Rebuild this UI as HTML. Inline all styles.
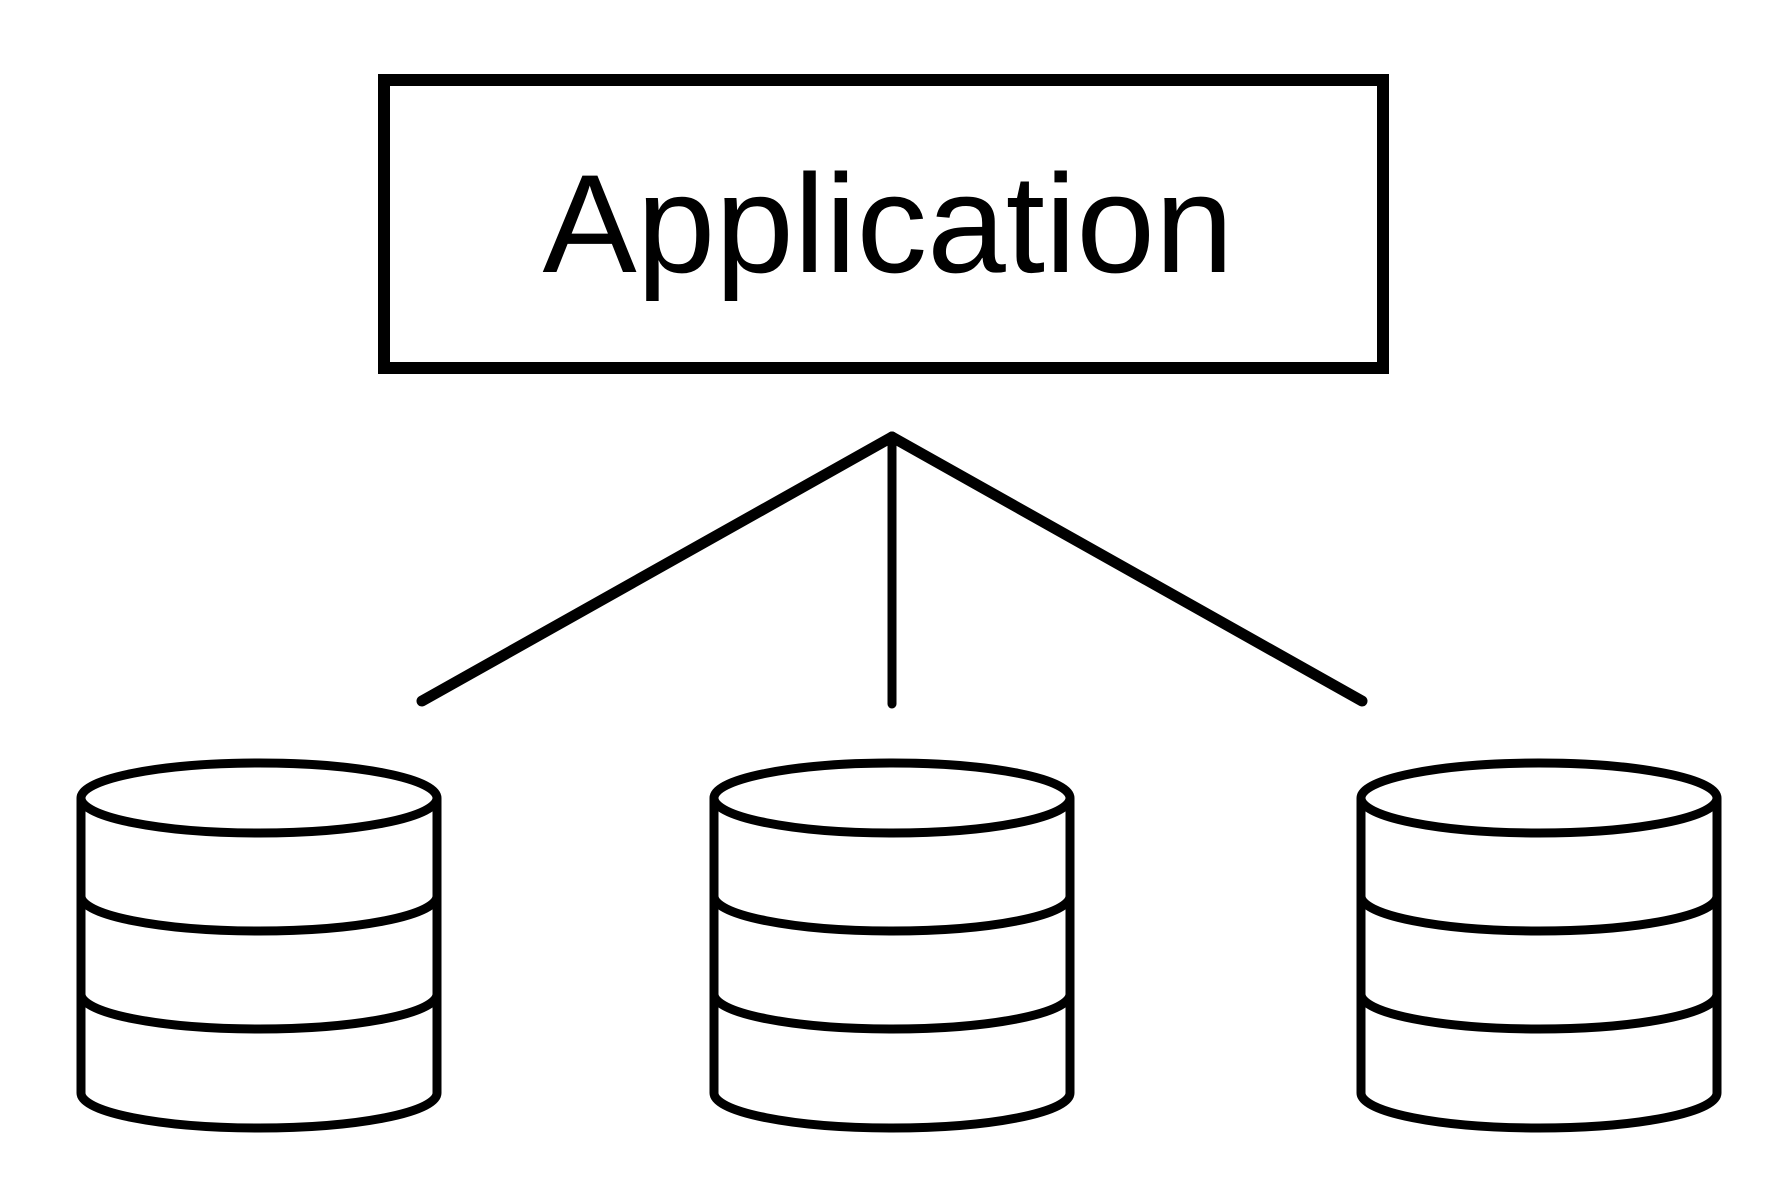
<!DOCTYPE html>
<html><head><style>html,body{margin:0;padding:0;background:#fff}svg{display:block}</style></head>
<body>
<svg width="1790" height="1186" viewBox="0 0 1790 1186" xmlns="http://www.w3.org/2000/svg">
<rect x="384" y="80" width="999" height="288" fill="none" stroke="#000" stroke-width="12"/>
<text x="888" y="272" text-anchor="middle" font-family="Liberation Sans, sans-serif" font-size="140" textLength="691" lengthAdjust="spacingAndGlyphs" fill="#000">Application</text>
<g stroke="#000" stroke-linecap="round" fill="none">
<line x1="892" y1="437" x2="422" y2="701" stroke-width="11"/>
<line x1="892" y1="437" x2="1362" y2="701" stroke-width="11"/>
<line x1="892" y1="437" x2="892" y2="704" stroke-width="9"/>
</g>
<defs>
<g id="cyl" fill="none" stroke="#000" stroke-width="9">
<path d="M-178 0 V295 A178 35 0 0 0 178 295 V0"/>
<ellipse cx="0" cy="0" rx="178" ry="35" fill="#fff"/>
<path d="M-178 98 A178 35 0 0 0 178 98"/>
<path d="M-178 196 A178 35 0 0 0 178 196"/>
</g>
</defs>
<use href="#cyl" x="259" y="798"/>
<use href="#cyl" x="892" y="798"/>
<use href="#cyl" x="1539" y="798"/>
</svg>
</body></html>
